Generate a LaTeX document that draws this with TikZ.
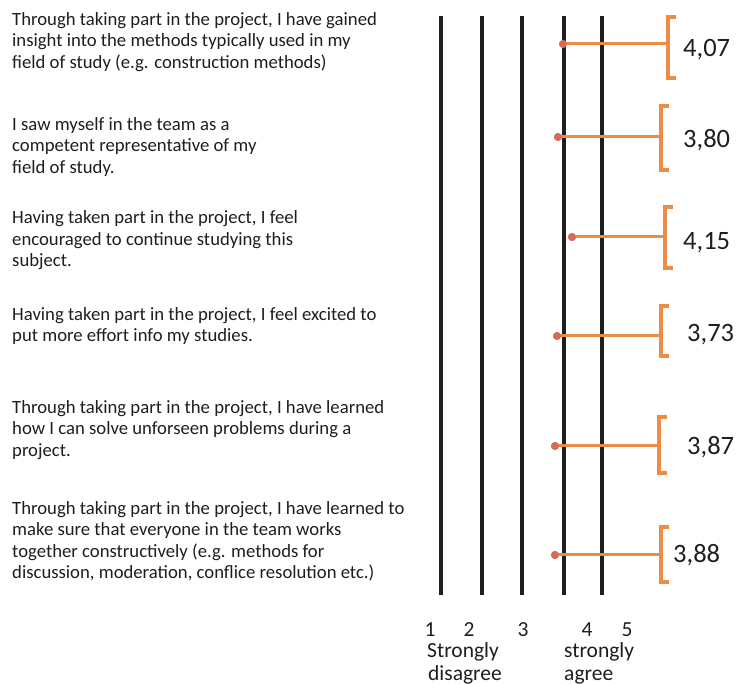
\documentclass[tikz,border=0pt]{standalone}
\usepackage{fontspec}
\setmainfont{Carlito}
\definecolor{bar}{RGB}{236,140,70}
\definecolor{dotc}{RGB}{212,108,88}
\definecolor{ink}{RGB}{30,30,30}
\begin{document}
\begin{tikzpicture}[x=1pt,y=-1pt,
  stmt/.style={anchor=north west,align=left,inner sep=0pt,text=ink,font=\fontsize{18.7}{21.5}\selectfont,execute at begin node=\strut},
  val/.style={anchor=base west,inner sep=0pt,text=ink,font=\fontsize{26.5}{30}\selectfont},
  axlab/.style={anchor=base,inner sep=0pt,text=ink,font=\fontsize{21.5}{24}\selectfont},
  scale line/.style={line width=4pt,draw=ink},
  meandot/.style={circle,fill=dotc,inner sep=0pt,minimum size=8pt},
  conn/.style={draw=bar,line width=3pt},
  brk/.style={draw=bar,line width=4pt}]
\useasboundingbox (0,0) rectangle (737,684);
% scale lines
\foreach \n/\x in {1/441,2/482,3/522,4/564,5/602}{
  \coordinate (t\n) at (\x,16);
  \coordinate (b\n) at (\x,595);
  \draw[scale line] (t\n) -- (b\n);
}
% statements (top = first baseline - 0.7*21.5)
\node[stmt] (s1) at (12,11.95) {Through taking part in the project, I have gained\\insight into the methods typically used in my\\field of study (e.g. construction methods)};
\node[stmt] (s2) at (12,116.95) {I saw myself in the team as a\\competent representative of my\\field of study.};
\node[stmt] (s3) at (12,210.45) {Having taken part in the project, I feel\\encouraged to continue studying this\\subject.};
\node[stmt] (s4) at (12,306.95) {Having taken part in the project, I feel excited to\\put more effort info my studies.};
\node[stmt] (s5) at (12,399.95) {Through taking part in the project, I have learned\\how I can solve unforseen problems during a\\project.};
\node[stmt] (s6) at (12,500.95) {Through taking part in the project, I have learned to\\make sure that everyone in the team works\\together constructively (e.g. methods for\\discussion, moderation, conflice resolution etc.)};
% rows: id / y / dot x / bracket x / top / bottom / label x / label baseline / text
\foreach \i/\y/\dx/\bx/\tp/\bt/\lx/\ly/\v in {
  1/44/563/668/17/78/683/57/{4,07},
  2/137/558/661/106/170/683/148/{3,80},
  3/237/572/665/207/268/683/250/{4,15},
  4/336/557/661/306/356/687/341.5/{3,73},
  5/446/555/659/417/473/687/455/{3,87},
  6/555/555/661/527/582/673/563/{3,88}}{
  \node[meandot] (d\i) at (\dx,\y) {};
  \coordinate (m\i) at (\bx,\y);
  \coordinate (bt\i) at (\bx,\tp);
  \coordinate (bb\i) at (\bx,\bt);
  \draw[conn] (d\i.center) -- (m\i);
  \draw[brk] ([xshift=8pt]bt\i) -- (bt\i) -- (bb\i) -- ([xshift=8pt]bb\i);
  \node[meandot] at (d\i) {};
  \node[val] (v\i) at (\lx,\ly) {\v};
}
% axis labels
\node[axlab] (n1) at (430,637) {1};
\node[axlab] (n2) at (469,637) {2};
\node[axlab] (n3) at (523,637) {3};
\node[axlab] (n4) at (587,637) {4};
\node[axlab] (n5) at (627,637) {5};
\node[axlab,anchor=base west] (sd1) at (427,657) {Strongly};
\node[axlab,anchor=base west] (sd2) at (428,680) {disagree};
\node[axlab,anchor=base west] (sa1) at (564,657) {strongly};
\node[axlab,anchor=base west] (sa2) at (564,680) {agree};
\end{tikzpicture}
\end{document}
